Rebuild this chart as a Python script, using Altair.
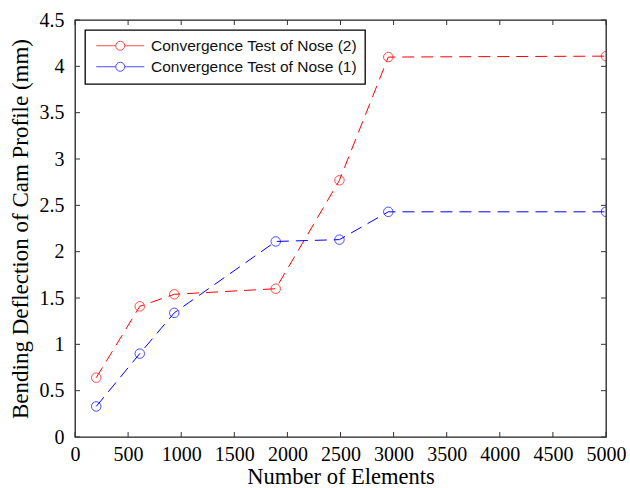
import altair as alt
import pandas as pd

# Data
elements = [200, 610, 935, 1890, 2490, 2950, 5000]
nose2 = [0.64, 1.41, 1.54, 1.60, 2.77, 4.10, 4.11]
nose1 = [0.33, 0.90, 1.34, 2.11, 2.13, 2.43, 2.43]
series_names = ["Convergence Test of Nose (2)", "Convergence Test of Nose (1)"]
series_colors = ["#FF0000", "#0000FF"]
x_ticks = [0, 500, 1000, 1500, 2000, 2500, 3000, 3500, 4000, 4500, 5000]
y_ticks = [0, 0.5, 1, 1.5, 2, 2.5, 3, 3.5, 4, 4.5]

rows = []
for name, vals in zip(series_names, [nose2, nose1]):
    for xv, yv in zip(elements, vals):
        rows.append({"Elements": xv, "Deflection": yv, "Series": name})
df = pd.DataFrame(rows)
df_xt = pd.DataFrame({"Elements": x_ticks})
df_yt = pd.DataFrame({"Deflection": y_ticks})

W, H = 531, 417
xscale = alt.Scale(domain=[0, 5000], nice=False, zero=False)
yscale = alt.Scale(domain=[0, 4.5], nice=False, zero=False)
cscale = alt.Scale(domain=series_names, range=series_colors)
# same mapping, listed in reverse order for the (legend-less) line stroke scale
sscale = alt.Scale(domain=series_names[::-1], range=series_colors[::-1])
xaxis = alt.Axis(title="Number of Elements", values=x_ticks, format="d")
yaxis = alt.Axis(title="Bending Deflection of Cam Profile (mm)", values=y_ticks, format="~g")

# legend symbol: line with an open circle in the middle (unit = 5 px at size 100)
r = 0.9
L = 4.8
sym = (f"M -{L} 0 L -{r} 0 M {r} 0 A {r} {r} 0 1 1 -{r} 0 "
       f"A {r} {r} 0 1 1 {r} 0 M {r} 0 L {L} 0")

X = alt.X("Elements:Q", scale=xscale, axis=xaxis)
Y = alt.Y("Deflection:Q", scale=yscale, axis=yaxis)

base = alt.Chart(df)

lines = base.mark_line(strokeDash=[12, 7], strokeWidth=1, clip=True).encode(
    x=X, y=Y,
    stroke=alt.Stroke("Series:N", scale=sscale, legend=None),
    detail="Series:N",
)

points = base.mark_point(shape="circle", filled=False, size=90, strokeWidth=1,
                         clip=True).encode(
    x=X, y=Y,
    color=alt.Color("Series:N", scale=cscale,
                    legend=alt.Legend(title=None, orient="top-left", offset=10,
                                      symbolType=sym, symbolSize=100,
                                      symbolStrokeWidth=1, symbolOffset=19.5,
                                      labelOffset=23, padding=8, rowPadding=4)),
)

xt_bottom = alt.Chart(df_xt).mark_rule(color="#333333", strokeWidth=1).encode(
    x=X, y=alt.value(H), y2=alt.value(H - 5))
xt_top = alt.Chart(df_xt).mark_rule(color="#333333", strokeWidth=1).encode(
    x=X, y=alt.value(0), y2=alt.value(5))
yt_left = alt.Chart(df_yt).mark_rule(color="#333333", strokeWidth=1).encode(
    y=Y, x=alt.value(0), x2=alt.value(5))
yt_right = alt.Chart(df_yt).mark_rule(color="#333333", strokeWidth=1).encode(
    y=Y, x=alt.value(W), x2=alt.value(W - 5))

chart = alt.layer(lines, points, xt_bottom, xt_top, yt_left, yt_right).properties(
    width=W, height=H,
    autosize=alt.AutoSizeParams(type="none"),
    padding={"left": 75, "top": 20, "right": 24, "bottom": 51},
    background="white",
).configure_view(
    stroke="#222222", strokeWidth=1.3
).configure_axis(
    tickSize=0, domain=False, grid=False, labelFlush=False,
    labelFont="Liberation Serif", labelFontSize=20, labelColor="#000000",
    titleFont="Liberation Serif", titleFontWeight="normal",
    titleColor="#000000",
).configure_axisX(
    labelPadding=7, titlePadding=1, titleFontSize=22.5
).configure_axisY(
    labelPadding=11, titlePadding=7, titleFontSize=23
).configure_legend(
    labelFont="Liberation Sans", labelFontSize=15.5, labelColor="#111111",
    strokeColor="#000000", strokeWidth=1.3, fillColor="white", cornerRadius=0,
    labelLimit=400,
)

chart.save("out.html", embed_options={"renderer": "svg", "actions": False})
